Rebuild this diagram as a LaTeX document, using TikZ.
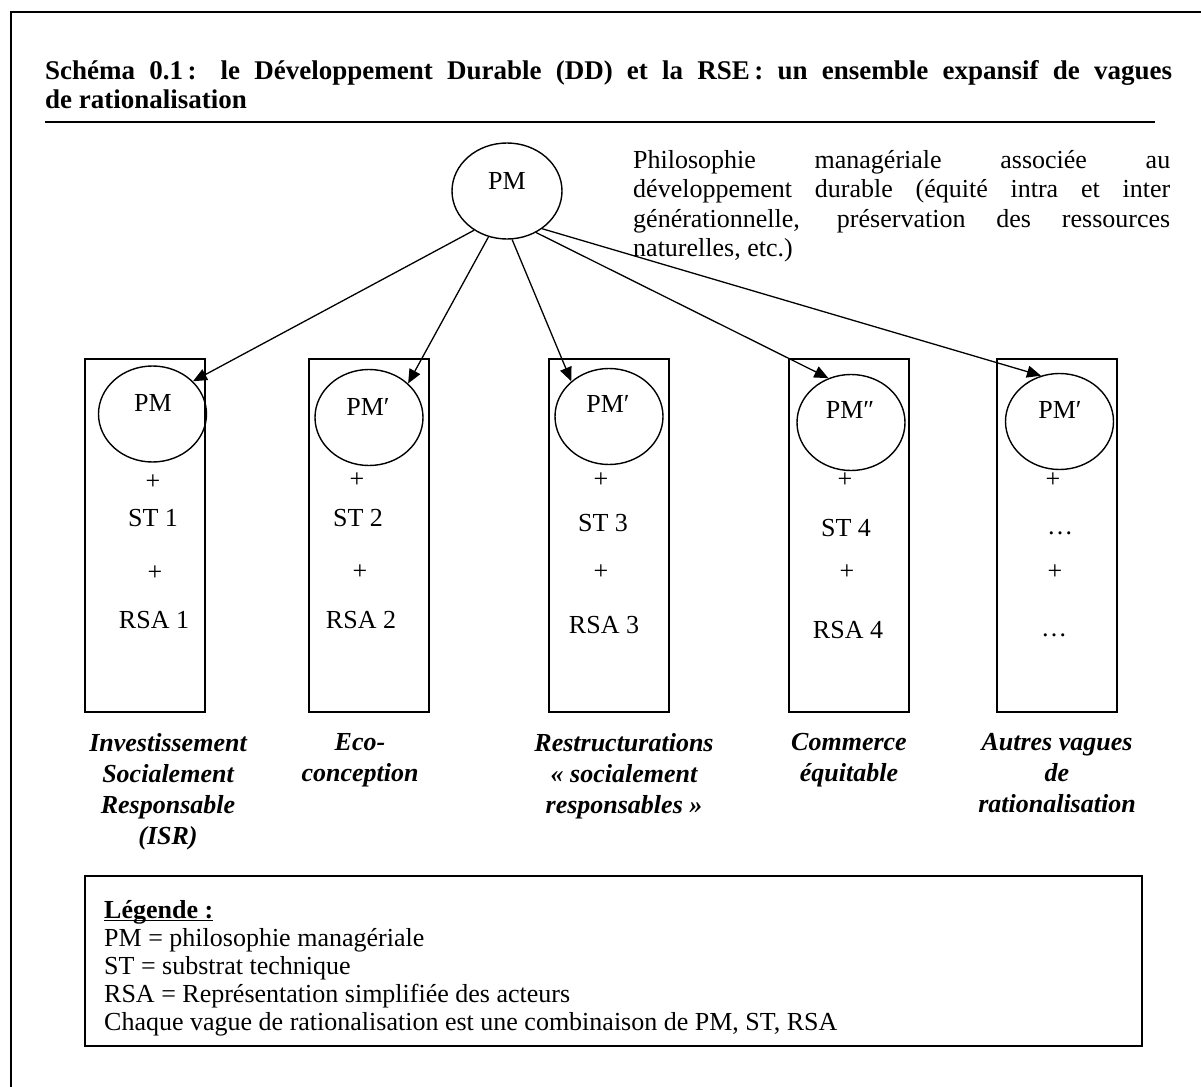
\documentclass[tikz,border=0pt]{standalone}
\usepackage{fontspec}
\setmainfont{Liberation Serif}
\usetikzlibrary{
  arrows.meta,
  shapes.geometric
}

\newlength\ulwidth
\newcommand\ulbold[1]{\settowidth{\ulwidth}{\textbf{#1}}\rlap{\rule[-3pt]{\ulwidth}{1.3pt}}\textbf{#1}}

\tikzset{
  wavebox/.style={draw, line width=1.5pt, minimum width=120, minimum height=353, inner sep=0},
  ring/.style={draw, ellipse, line width=1.4pt, minimum width=108, minimum height=96, inner sep=0},
  word/.style={inner sep=0},
  link/.style={line width=1.3pt, -{Triangle[length=14pt, width=12pt]}},
  wavename/.style={inner sep=0, anchor=north, align=center, font=\fontsize{26}{31}\selectfont\bfseries\itshape}
}

\begin{document}
\begin{tikzpicture}[x=1pt, y=-1pt, font=\fontsize{26}{29.5}\selectfont]
  \useasboundingbox (0,0) rectangle (1201,1086);
  % Frame, cut by the page on the right and at the bottom
  \draw[line width=1.5pt] (11,12) rectangle (1240,1120);

  % Title
  \node[word, anchor=north west, text width=1127, align=justify, font=\fontsize{27}{29}\selectfont\bfseries] (title) at (45,60)
    {Schéma 0.1\,: le Développement Durable (DD) et la RSE\,: un ensemble expansif de vagues\linebreak de rationalisation};
  \draw[line width=2pt] (45,122) -- (1155,122);

  % Top: PM
  \node[ring, minimum width=110] (pm) at (507,191) {};
  \node[word] (pmtext) at (507,181) {PM};
  \node[word, anchor=north west, text width=537, align=justify] (philo) at (633,150)
    {Philosophie managériale associée au\linebreak développement durable (équité intra et inter\linebreak générationnelle, préservation des ressources\linebreak naturelles, etc.)};

  % Boxes
  \node[wavebox] (w1) at (145,535.5) {};
  \node[wavebox] (w2) at (369,535.5) {};
  \node[wavebox] (w3) at (609,535.5) {};
  \node[wavebox] (w4) at (849,535.5) {};
  \node[wavebox] (w5) at (1057,535.5) {};

  % Column 1: ISR
  \node[ring] (c1) at (152.5,414) {};
  \node[word] (p1) at (153,403) {PM};
  \node[word] (a1) at (153,482) {+};
  \node[word] (s1) at (153,518) {ST 1};
  \node[word] (b1) at (155,573) {+};
  \node[word] (r1) at (154,620) {RSA 1};
  % Column 2: Eco-conception
  \node[ring] (c2) at (369,417.5) {};
  \node[word] (p2) at (368,407) {PM′};
  \node[word] (a2) at (357,480) {+};
  \node[word] (s2) at (358,518) {ST 2};
  \node[word] (b2) at (360,572) {+};
  \node[word] (r2) at (361,620) {RSA 2};
  % Column 3: Restructurations
  \node[ring] (c3) at (609,416.5) {};
  \node[word] (p3) at (608,404) {PM′};
  \node[word] (a3) at (601,480) {+};
  \node[word] (s3) at (603,523) {ST 3};
  \node[word] (b3) at (601,572) {+};
  \node[word] (r3) at (604,625) {RSA 3};
  % Column 4: Commerce equitable
  \node[ring] (c4) at (851,422.5) {};
  \node[word] (p4) at (850,410) {PM″};
  \node[word] (a4) at (845,480) {+};
  \node[word] (s4) at (846,528) {ST 4};
  \node[word] (b4) at (847,572) {+};
  \node[word] (r4) at (848,630) {RSA 4};
  % Column 5: Autres vagues
  \node[ring] (c5) at (1059.5,421.5) {};
  \node[word] (p5) at (1060,410) {PM′};
  \node[word] (a5) at (1053,480) {+};
  \node[word] (s5) at (1060,533) {…};
  \node[word] (b5) at (1055,572) {+};
  \node[word] (r5) at (1054,635) {…};

  % Arrows
  \draw[link] (pm.230) -- (c1.39);
  \draw[link] (pm.248) -- (c2.41);
  \draw[link] (pm.276) -- (c3.137);
  \draw[link] (pm.305) -- (c4.117);
  \draw[link] (pm.313) -- (c5.112);

  % Names of the waves
  \node[wavename] (n1) at (168,733) {Investissement\\Socialement\\Responsable\\(ISR)};
  \node[wavename] (n2) at (360,733) {Eco-\\conception};
  \node[wavename] (n3) at (624,733) {Restructurations\\«~socialement\\responsables~»};
  \node[wavename] (n4) at (849,733) {Commerce\\équitable};
  \node[wavename] (n5) at (1057,733) {Autres vagues\\de\\rationalisation};

  % Legend
  \node[draw, line width=1.6pt, minimum width=1057, minimum height=170, inner sep=0, anchor=north west] (legend) at (84,875) {};
  \node[word, anchor=north west, align=left, font=\fontsize{26}{28}\selectfont] (keys) at (104,900)
    {\ulbold{Légende :}\\
     PM = philosophie managériale\\
     ST = substrat technique\\
     RSA = Représentation simplifiée des acteurs\\
     Chaque vague de rationalisation est une combinaison de PM, ST, RSA};
\end{tikzpicture}
\end{document}
